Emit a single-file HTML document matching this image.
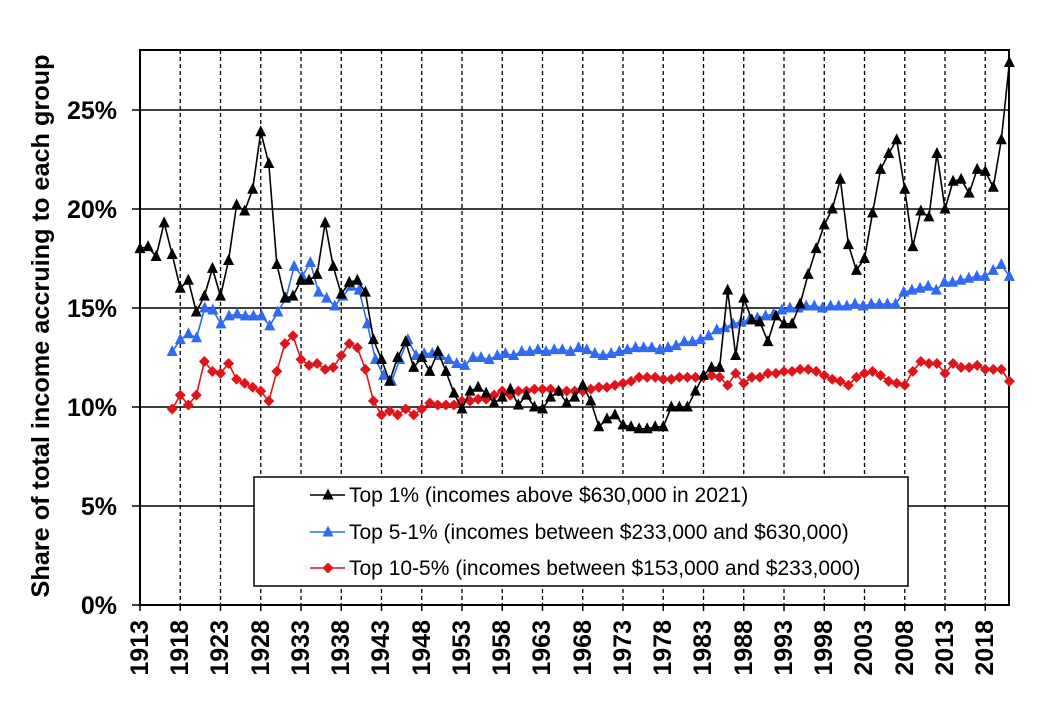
<!DOCTYPE html>
<html><head><meta charset="utf-8"><style>
html,body{margin:0;padding:0;background:#fff;}
svg{display:block;font-family:"Liberation Sans",Arial,sans-serif;}
.yl{font-size:25px;font-weight:bold;text-anchor:end;}
.xl{font-size:25px;font-weight:bold;text-anchor:end;}
.lg{font-size:21px;}
</style></head><body>
<svg id="s" width="1055" height="714" viewBox="0 0 1055 714" xmlns="http://www.w3.org/2000/svg">
<g id="grid"></g>
<text x="49" y="326" transform="rotate(-90 49 326)" text-anchor="middle" style="font-size:25px;font-weight:bold" textLength="543" lengthAdjust="spacingAndGlyphs">Share of total income accruing to each group</text>
<text class="yl" x="117" y="614">0%</text>
<text class="yl" x="117" y="515">5%</text>
<text class="yl" x="117" y="416">10%</text>
<text class="yl" x="117" y="317">15%</text>
<text class="yl" x="117" y="218">20%</text>
<text class="yl" x="117" y="119">25%</text>
<g id="xl">
<text class="xl" transform="translate(148,620) rotate(-90)">1913</text>
<text class="xl" transform="translate(188,620) rotate(-90)">1918</text>
<text class="xl" transform="translate(228,620) rotate(-90)">1923</text>
<text class="xl" transform="translate(269,620) rotate(-90)">1928</text>
<text class="xl" transform="translate(309,620) rotate(-90)">1933</text>
<text class="xl" transform="translate(349,620) rotate(-90)">1938</text>
<text class="xl" transform="translate(389,620) rotate(-90)">1943</text>
<text class="xl" transform="translate(430,620) rotate(-90)">1948</text>
<text class="xl" transform="translate(470,620) rotate(-90)">1953</text>
<text class="xl" transform="translate(510,620) rotate(-90)">1958</text>
<text class="xl" transform="translate(550,620) rotate(-90)">1963</text>
<text class="xl" transform="translate(591,620) rotate(-90)">1968</text>
<text class="xl" transform="translate(631,620) rotate(-90)">1973</text>
<text class="xl" transform="translate(671,620) rotate(-90)">1978</text>
<text class="xl" transform="translate(711,620) rotate(-90)">1983</text>
<text class="xl" transform="translate(752,620) rotate(-90)">1988</text>
<text class="xl" transform="translate(792,620) rotate(-90)">1993</text>
<text class="xl" transform="translate(832,620) rotate(-90)">1998</text>
<text class="xl" transform="translate(872,620) rotate(-90)">2003</text>
<text class="xl" transform="translate(913,620) rotate(-90)">2008</text>
<text class="xl" transform="translate(953,620) rotate(-90)">2013</text>
<text class="xl" transform="translate(993,620) rotate(-90)">2018</text>
</g>
<g id="series"></g>
<rect x="254" y="477" width="654" height="109" fill="#fff" stroke="#000" stroke-width="1.5"/>
<g id="leg"></g>
<text class="lg" x="349" y="502">Top 1% (incomes above $630,000 in 2021)</text>
<text class="lg" x="349" y="539">Top 5-1% (incomes between $233,000 and $630,000)</text>
<text class="lg" x="349" y="575">Top 10-5% (incomes between $153,000 and $233,000)</text>
</svg>
<script>
var NS="http://www.w3.org/2000/svg";
function el(p,t,a){var e=document.createElementNS(NS,t);for(var k in a)e.setAttribute(k,a[k]);p.appendChild(e);return e;}
function X(y){return 140+(y-1913)*8.05;}
function Y(v){return 605-v*19.8;}
var g=document.getElementById('grid');
for(var yr=1918;yr<=2018;yr+=5){el(g,'line',{x1:X(yr),x2:X(yr),y1:50,y2:605,stroke:'#000','stroke-width':1.3,'stroke-dasharray':'4,3'});}
for(var v=5;v<=25;v+=5){el(g,'line',{x1:132,x2:1009,y1:Y(v),y2:Y(v),stroke:'#000','stroke-width':1.5});}
el(g,'line',{x1:132,x2:140,y1:605,y2:605,stroke:'#000','stroke-width':1.5});
for(var yr=1913;yr<=2018;yr+=5){el(g,'line',{x1:X(yr),x2:X(yr),y1:605,y2:611,stroke:'#000','stroke-width':1.5});}
el(g,'rect',{x:140,y:50,width:869,height:555,fill:'none',stroke:'#000','stroke-width':2});
var t1=[18.0,18.1,17.6,19.3,17.7,16.0,16.4,14.8,15.6,17.0,15.6,17.4,20.2,19.9,21.0,23.9,22.3,17.2,15.5,15.6,16.4,16.4,16.7,19.3,17.1,15.7,16.3,16.4,15.8,13.4,12.4,11.3,12.5,13.3,12.0,12.5,11.8,12.8,11.8,10.7,9.9,10.8,11.0,10.7,10.2,10.5,10.9,10.1,10.6,10.0,9.9,10.5,10.8,10.2,10.5,11.1,10.3,9.0,9.4,9.6,9.1,9.0,8.9,8.9,9.0,9.0,10.0,10.0,10.0,10.8,11.6,12.0,12.0,15.9,12.6,15.5,14.4,14.3,13.3,14.6,14.2,14.2,15.2,16.7,18.0,19.2,20.0,21.5,18.2,16.9,17.5,19.8,22.0,22.8,23.5,21.0,18.1,19.9,19.6,22.8,20.0,21.4,21.5,20.8,22.0,21.9,21.1,23.5,27.4];
var t5=[12.8,13.4,13.7,13.5,15.0,14.9,14.2,14.6,14.7,14.6,14.6,14.6,14.1,14.8,15.5,17.1,16.6,17.3,15.8,15.5,15.1,15.6,16.1,15.9,14.2,12.4,11.6,11.3,12.4,13.4,12.6,12.7,12.7,12.6,12.4,12.2,12.1,12.5,12.5,12.4,12.6,12.7,12.6,12.8,12.8,12.9,12.8,12.9,12.9,12.8,13.0,12.9,12.7,12.6,12.7,12.8,12.9,13.0,13.0,13.0,12.9,13.0,13.1,13.3,13.3,13.4,13.6,13.9,14.0,14.2,14.3,14.4,14.5,14.6,14.7,14.9,15.0,15.0,15.1,15.1,15.0,15.1,15.1,15.1,15.2,15.1,15.2,15.2,15.2,15.2,15.8,15.9,16.0,16.1,15.9,16.3,16.3,16.4,16.5,16.6,16.6,16.9,17.2,16.6];
var t10=[9.9,10.6,10.1,10.6,12.3,11.8,11.7,12.2,11.4,11.2,11.0,10.8,10.3,11.8,13.2,13.6,12.4,12.1,12.2,11.9,12.0,12.6,13.2,13.0,11.9,10.3,9.6,9.8,9.6,9.9,9.6,9.9,10.2,10.1,10.1,10.1,10.3,10.3,10.4,10.4,10.6,10.8,10.6,10.8,10.8,10.9,10.9,10.9,10.8,10.8,10.8,10.8,10.9,11.0,11.0,11.1,11.2,11.3,11.5,11.5,11.5,11.4,11.4,11.5,11.5,11.5,11.5,11.6,11.5,11.1,11.7,11.2,11.5,11.5,11.7,11.7,11.8,11.8,11.9,11.9,11.8,11.6,11.4,11.3,11.1,11.5,11.7,11.8,11.6,11.3,11.2,11.1,11.8,12.3,12.2,12.2,11.7,12.2,12.0,12.0,12.1,11.9,11.9,11.9,11.3];
var sg=document.getElementById('series');
function tri(p,x,y,c){el(p,'polygon',{points:(x-5.5)+','+(y+4.5)+' '+(x+5.5)+','+(y+4.5)+' '+x+','+(y-6.5),fill:c});}
function dia(p,x,y,c){el(p,'polygon',{points:x+','+(y-5.5)+' '+(x+5.5)+','+y+' '+x+','+(y+5.5)+' '+(x-5.5)+','+y,fill:c});}
function draw(d,start,c,m){var n=d.length,span=2021-start;var pts=d.map(function(v,i){return X(start+i*span/(n-1))+','+Y(v);}).join(' ');
el(sg,'polyline',{points:pts,fill:'none',stroke:c,'stroke-width':1.6});
d.forEach(function(v,i){m(sg,X(start+i*span/(n-1)),Y(v),c);});}
draw(t10,1917,'#e0141b',dia);
draw(t5,1917,'#2f6af2',tri);
draw(t1,1913,'#000',tri);
var lg=document.getElementById('leg');
[['#000',495,tri],['#2f6af2',532,tri],['#e0141b',568,dia]].forEach(function(a){el(lg,'line',{x1:310,x2:345,y1:a[1],y2:a[1],stroke:a[0],'stroke-width':1.6});a[2](lg,328,a[1],a[0]);});
</script>
</body></html>
